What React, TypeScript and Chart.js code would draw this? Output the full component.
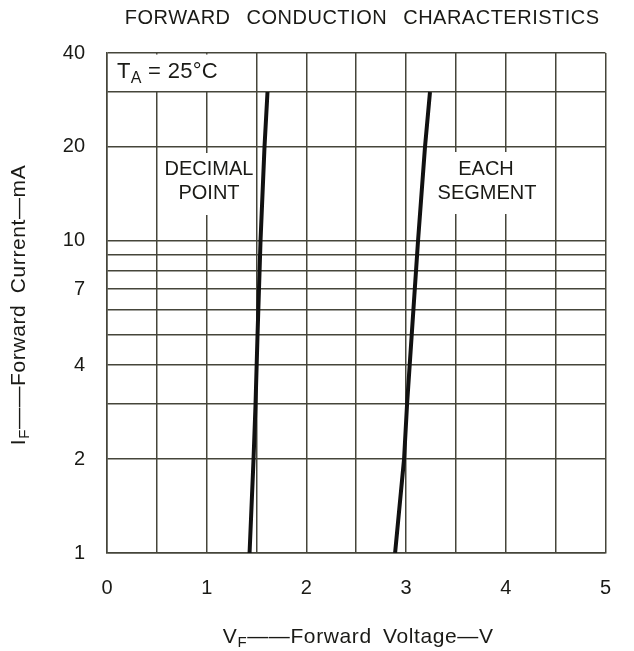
import React, { useEffect, useRef } from 'react';
import { Chart, registerables } from 'chart.js';

Chart.register(...registerables);

// ---- data ----
const currentGrid = [1, 2, 3, 4, 5, 6, 7, 8, 9, 10, 20, 30, 40];
const currentLabels = [1, 2, 4, 7, 10, 20, 40];
const voltageGrid = [0, 0.5, 1, 1.5, 2, 2.5, 3, 3.5, 4, 4.5, 5];
const voltageLabels = [0, 1, 2, 3, 4, 5];

const decimalPointV = [1.43, 1.47, 1.49, 1.51, 1.54, 1.58, 1.61];
const decimalPointI = [1, 2, 3, 5, 10, 20, 30];
const eachSegmentV = [2.89, 2.98, 3.01, 3.12, 3.19, 3.24];
const eachSegmentI = [1, 2, 3, 10, 20, 30];

const TITLE = 'FORWARD CONDUCTION CHARACTERISTICS';
const X_TITLE = [{ text: 'V' }, { text: 'F', sub: true }, { text: '——Forward Voltage—V' }];
const Y_TITLE = [{ text: 'I' }, { text: 'F', sub: true }, { text: '——Forward Current—mA' }];
const TEMP_LABEL = [{ text: 'T' }, { text: 'A', sub: true }, { text: ' = 25°C' }];
const DECIMAL_LABEL = ['DECIMAL', 'POINT'];
const SEGMENT_LABEL = ['EACH', 'SEGMENT'];

const FAMILY = '"Liberation Sans", Arial, Helvetica, sans-serif';
const TEXT = '#1a1a16';
const GRID = '#45453a';
const fnt = (px: number) => `${px}px ${FAMILY}`;

type Run = { text: string; sub?: boolean };

function drawRich(ctx: CanvasRenderingContext2D, runs: Run[], x0: number, cy: number, size: number, align: 'center' | 'left') {
  const subSize = Math.round(size * 0.72);
  let total = 0;
  const widths = runs.map((r) => {
    ctx.font = fnt(r.sub ? subSize : size);
    const w = ctx.measureText(r.text).width;
    total += w;
    return w;
  });
  let x = align === 'center' ? x0 - total / 2 : x0;
  ctx.textAlign = 'left';
  ctx.textBaseline = 'middle';
  runs.forEach((r, i) => {
    ctx.font = fnt(r.sub ? subSize : size);
    ctx.fillText(r.text, x, r.sub ? cy + size * 0.3 : cy);
    x += widths[i];
  });
}

const annotations = {
  id: 'annotations',
  beforeDatasetsDraw(chart: any) {
    const { ctx, scales } = chart;
    const xs = scales.x;
    const ys = scales.y;
    ctx.save();
    ctx.fillStyle = '#ffffff';
    // T_A box (cell 0..1.5 V, 30..40 mA)
    const bx0 = xs.getPixelForValue(0) + 1.5;
    const bx1 = xs.getPixelForValue(1.5) - 1;
    const by0 = ys.getPixelForValue(40) + 1.5;
    const by1 = ys.getPixelForValue(30) - 1;
    ctx.fillRect(bx0, by0, bx1 - bx0, by1 - by0);
    // label backgrounds
    ctx.fillRect(162, 153, 93, 62);
    ctx.fillRect(437, 152, 98, 62);
    ctx.restore();
  },
  afterDraw(chart: any) {
    const { ctx, chartArea } = chart;
    const cx = (chartArea.left + chartArea.right) / 2;
    const cy = (chartArea.top + chartArea.bottom) / 2;
    ctx.save();
    ctx.fillStyle = TEXT;
    // title
    ctx.font = fnt(20);
    (ctx as any).wordSpacing = '10px';
    (ctx as any).letterSpacing = '0.5px';
    ctx.textAlign = 'center';
    ctx.textBaseline = 'middle';
    ctx.fillText(TITLE, cx + 6, 18);
    (ctx as any).wordSpacing = '5px';
    (ctx as any).letterSpacing = '0.6px';
    // x title
    drawRich(ctx, X_TITLE, cx + 2, 637, 21, 'center');
    // y title
    ctx.save();
    ctx.translate(19, cy + 2);
    ctx.rotate(-Math.PI / 2);
    drawRich(ctx, Y_TITLE, 0, 0, 21, 'center');
    ctx.restore();
    (ctx as any).letterSpacing = '0.3px';
    (ctx as any).wordSpacing = '4px';
    // T_A label
    drawRich(ctx, TEMP_LABEL, 117, 72, 22, 'left');
    (ctx as any).wordSpacing = '0px';
    (ctx as any).letterSpacing = '0px';
    // curve labels
    ctx.font = fnt(20);
    ctx.textAlign = 'center';
    ctx.textBaseline = 'middle';
    ctx.fillText(DECIMAL_LABEL[0], 209, 169);
    ctx.fillText(DECIMAL_LABEL[1], 209, 193);
    ctx.fillText(SEGMENT_LABEL[0], 486, 169);
    ctx.fillText(SEGMENT_LABEL[1], 487, 193);
    ctx.restore();
  },
};

export default function App() {
  const canvasRef = useRef<HTMLCanvasElement | null>(null);

  useEffect(() => {
    document.body.style.margin = '0';
    document.body.style.overflow = 'hidden';
    const canvas = canvasRef.current;
    if (!canvas) return;
    const chart = new Chart(canvas, {
      type: 'scatter',
      data: {
        datasets: [
          {
            label: 'DECIMAL POINT',
            data: decimalPointV.map((v, i) => ({ x: v, y: decimalPointI[i] })),
            showLine: true,
            borderColor: '#111111',
            borderWidth: 4,
            pointRadius: 0,
            tension: 0,
          },
          {
            label: 'EACH SEGMENT',
            data: eachSegmentV.map((v, i) => ({ x: v, y: eachSegmentI[i] })),
            showLine: true,
            borderColor: '#111111',
            borderWidth: 4,
            pointRadius: 0,
            tension: 0,
          },
        ],
      },
      options: {
        responsive: false,
        animation: false,
        devicePixelRatio: 1,
        layout: { padding: { top: 53, right: 24, left: 0, bottom: 0 } },
        plugins: {
          legend: { display: false },
          tooltip: { enabled: false },
          title: { display: false },
        },
        scales: {
          x: {
            type: 'linear',
            min: 0,
            max: 5,
            afterBuildTicks: (s: any) => {
              s.ticks = voltageGrid.map((v) => ({ value: v }));
            },
            afterFit: (s: any) => {
              s.height = 98;
            },
            grid: { color: GRID, lineWidth: 1.5, drawTicks: false },
            border: { color: GRID, width: 1.5 },
            ticks: {
              autoSkip: false,
              maxRotation: 0,
              padding: 23,
              color: TEXT,
              font: { family: FAMILY, size: 20 },
              callback: (v: any) => (voltageLabels.includes(Number(v)) ? String(v) : ''),
            },
          },
          y: {
            type: 'logarithmic',
            min: 1,
            max: 40,
            afterBuildTicks: (s: any) => {
              s.ticks = currentGrid.map((v) => ({ value: v }));
            },
            afterFit: (s: any) => {
              s.width = 107;
            },
            grid: { color: GRID, lineWidth: 1.5, drawTicks: false },
            border: { color: GRID, width: 1.5 },
            ticks: {
              autoSkip: false,
              padding: 22,
              color: TEXT,
              font: { family: FAMILY, size: 20 },
              callback: (v: any) => (currentLabels.includes(Number(v)) ? String(v) : ''),
            },
          },
        },
      },
      plugins: [annotations],
    } as any);
    return () => chart.destroy();
  }, []);

  return (
    <div style={{ width: 634, height: 651, background: '#ffffff' }}>
      <canvas ref={canvasRef} width={634} height={651} style={{ display: 'block' }} />
    </div>
  );
}
